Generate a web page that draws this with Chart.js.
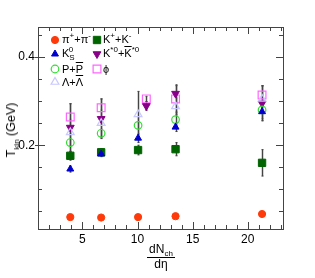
<!DOCTYPE html>
<html><head><meta charset="utf-8">
<script src="https://cdn.jsdelivr.net/npm/chart.js@4"></script>
<style>
html,body{margin:0;padding:0;background:#fff;}
#wrap{position:relative;width:315px;height:278px;font-family:"Liberation Sans",Arial,sans-serif;color:#000;}
canvas{position:absolute;left:0;top:0;}
.lg{position:absolute;font-size:11px;line-height:12px;white-space:nowrap;}
.ov{text-decoration:overline;}
sup,sub{font-size:8px;line-height:0;}
#ytitle{position:absolute;left:11px;top:130px;transform:translate(-50%,-50%) rotate(-90deg);font-size:12.5px;white-space:nowrap;}
#xtitle{position:absolute;left:147px;top:243px;width:28px;text-align:center;font-size:12px;line-height:13px;}
#xtitle .num{border-bottom:1px solid #000;padding-bottom:1px;}
</style></head>
<body><div id="wrap"><canvas id="c" width="315" height="278"></canvas>
<div class="lg" style="left:62px;top:33px">π<sup>+</sup>+π<sup>-</sup></div>
<div class="lg" style="left:103px;top:33px">K<sup>+</sup>+K<sup>-</sup></div>
<div class="lg" style="left:62px;top:47px">K<sub>S</sub><sup style="margin-left:-6px">0</sup></div>
<div class="lg" style="left:103px;top:47px">K<sup>*0</sup>+<span class="ov">K</span><sup>*0</sup></div>
<div class="lg" style="left:62px;top:63px">P+<span class="ov">P</span></div>
<div class="lg" style="left:103px;top:63px">ϕ</div>
<div class="lg" style="left:62px;top:76px">Λ+<span class="ov">Λ</span></div>
<div id="ytitle">T<sub>kin</sub> (GeV)</div>
<div id="xtitle"><div class="num">dN<sub>ch</sub></div><div>dη</div></div>
</div>
<script>
const xMult = [3.9, 6.7, 10.05, 13.45, 21.3];
const xRes  = [3.9, 6.7, 10.8, 13.45, 21.3];
const piVals     = [0.037, 0.036, 0.037, 0.039, 0.044];
const k0sVals    = [0.146, 0.180, 0.216, 0.241, 0.276];
const k0sErr     = [0.007, 0.006, 0.010, 0.010, 0.020];
const pVals      = [0.206, 0.227, 0.245, 0.258, 0.280];
const pErr       = [0.020, 0.010, 0.020, 0.015, 0.020];
const lamVals    = [0.229, 0.250, 0.270, 0.288, 0.305];
const lamErr     = [0.030, 0.030, 0.052, 0.019, 0.030];
const kkVals     = [0.176, 0.184, 0.189, 0.191, 0.160];
const kkErr      = [0.010, 0.008, 0.011, 0.015, 0.030];
const kstVals    = [0.240, 0.260, 0.289, 0.317, 0.295];
const kstErr     = [0.054, 0.045, 0.010, 0.020, 0.040];
const phiVals    = [0.264, 0.285, 0.305, 0.305, 0.314];
const phiErr     = [0.030, 0.020, 0.006, 0.030, 0.020];
const xTicks = [5, 10, 15, 20];
const yTicks = [0.2, 0.4];
const legendMarkers = [
  {ds:0, x:55, y:40},{ds:4, x:97, y:40},
  {ds:1, x:55, y:54},{ds:5, x:97, y:54},
  {ds:2, x:55, y:69},{ds:6, x:97, y:69},
  {ds:3, x:55, y:82}
];

function pts(xs, ys, es){ return xs.map((x,i)=>({x:x, y:ys[i], e: es? es[i]:0})); }

const datasets = [
  {label:'pi', data:pts(xMult, piVals), pointStyle:'circle', pointRadius:3.6, backgroundColor:'#ff3a0a', borderColor:'#ff3a0a', borderWidth:1},
  {label:'K0S', data:pts(xMult, k0sVals, k0sErr), pointStyle:'triangle', pointRadius:4, backgroundColor:'#0000cc', borderColor:'#0000cc', borderWidth:1},
  {label:'P', data:pts(xMult, pVals, pErr), pointStyle:'circle', pointRadius:3.8, backgroundColor:'rgba(0,0,0,0)', borderColor:'#33dd33', borderWidth:1.2},
  {label:'Lambda', data:pts(xMult, lamVals, lamErr), pointStyle:'triangle', pointRadius:4.5, backgroundColor:'rgba(0,0,0,0)', borderColor:'#c8c8ff', borderWidth:1.2},
  {label:'KK', data:pts(xMult, kkVals, kkErr), pointStyle:'rect', pointRadius:5.2, backgroundColor:'#006400', borderColor:'#006400', borderWidth:1},
  {label:'Kstar', data:pts(xRes, kstVals, kstErr), pointStyle:'triangle', rotation:180, pointRotation:180, pointRadius:4.5, backgroundColor:'#880088', borderColor:'#880088', borderWidth:1},
  {label:'phi', data:pts(xRes, phiVals, phiErr), pointStyle:'rect', pointRadius:5.5, backgroundColor:'rgba(0,0,0,0)', borderColor:'#ff66ff', borderWidth:1.2}
];

const errPlugin = {
  id:'err',
  beforeDatasetsDraw(chart){
    const ctx = chart.ctx, xs = chart.scales.x, ys = chart.scales.y;
    ctx.save();
    chart.data.datasets.forEach(ds=>{
      ds.data.forEach(p=>{
        if(!p.e) return;
        const px = Math.round(xs.getPixelForValue(p.x))+0.5;
        const y1 = ys.getPixelForValue(p.y+p.e), y2 = ys.getPixelForValue(p.y-p.e);
        ctx.strokeStyle='#aaaaaa'; ctx.lineWidth=2;
        ctx.beginPath(); ctx.moveTo(px,y1); ctx.lineTo(px,y2); ctx.stroke();
        ctx.strokeStyle='#444'; ctx.lineWidth=1;
        ctx.beginPath(); ctx.moveTo(px,y1); ctx.lineTo(px,y2); ctx.stroke();
        ctx.beginPath(); ctx.moveTo(px-1,y1); ctx.lineTo(px+1,y1); ctx.moveTo(px-1,y2); ctx.lineTo(px+1,y2); ctx.stroke();
      });
    });
    ctx.restore();
  },
  afterDraw(chart){
    const ctx = chart.ctx, a = chart.chartArea, xs = chart.scales.x, ys = chart.scales.y;
    ctx.save();
    ctx.strokeStyle='#444'; ctx.lineWidth=1;
    ctx.strokeRect(Math.round(a.left)+0.5, Math.round(a.top)+0.5, Math.round(a.right-a.left), Math.round(a.bottom-a.top));
    ctx.beginPath();
    for(let v=1; v<=23; v++){
      const px = Math.round(xs.getPixelForValue(v))+0.5;
      if(px<a.left+1||px>a.right-1) continue;
      const L = (v%5===0)?7:4;
      ctx.moveTo(px,a.bottom); ctx.lineTo(px,a.bottom-L);
      ctx.moveTo(px,a.top); ctx.lineTo(px,a.top+L);
    }
    for(let k=1; k<=9; k++){
      const v = k*0.05;
      const py = Math.round(ys.getPixelForValue(v))+0.5;
      if(py<a.top+1||py>a.bottom-1) continue;
      const major = (k%4===0);
      const L = major?7:4;
      ctx.moveTo(major?a.left-3:a.left,py); ctx.lineTo(a.left+L,py);
      ctx.moveTo(a.right,py); ctx.lineTo(a.right-L,py);
    }
    ctx.stroke();
    legendMarkers.forEach(m=>{
      const ds = chart.data.datasets[m.ds];
      ctx.fillStyle = ds.backgroundColor; ctx.strokeStyle = ds.borderColor; ctx.lineWidth = ds.borderWidth;
      Chart.helpers.drawPoint(ctx, {pointStyle:ds.pointStyle, rotation:ds.pointRotation||0, radius:ds.pointRadius, borderWidth:ds.borderWidth}, m.x, m.y);
    });
    ctx.restore();
  }
};

new Chart(document.getElementById('c'), {
  type:'scatter',
  data:{datasets:datasets},
  plugins:[errPlugin],
  options:{
    responsive:false, animation:false, events:[],
    layout:{padding:{left:0, right:32, top:27, bottom:0}},
    plugins:{legend:{display:false}, tooltip:{enabled:false}},
    scales:{
      x:{type:'linear', min:0.97, max:23.2,
         afterBuildTicks(s){ s.ticks = xTicks.map(v=>({value:v})); },
         afterFit(s){ s.height = 49; },
         grid:{display:false, drawTicks:false}, border:{display:false},
         ticks:{color:'#000', padding:3, maxRotation:0, font:{family:'Liberation Sans', size:12}}},
      y:{type:'linear', min:0.01, max:0.468,
         afterBuildTicks(s){ s.ticks = yTicks.map(v=>({value:v})); },
         afterFit(s){ s.width = 38; },
         grid:{display:false, drawTicks:false}, border:{display:false},
         ticks:{color:'#000', padding:3, font:{family:'Liberation Sans', size:12}, callback:v=>v.toFixed(1)}}
    }
  }
});
</script></body></html>
